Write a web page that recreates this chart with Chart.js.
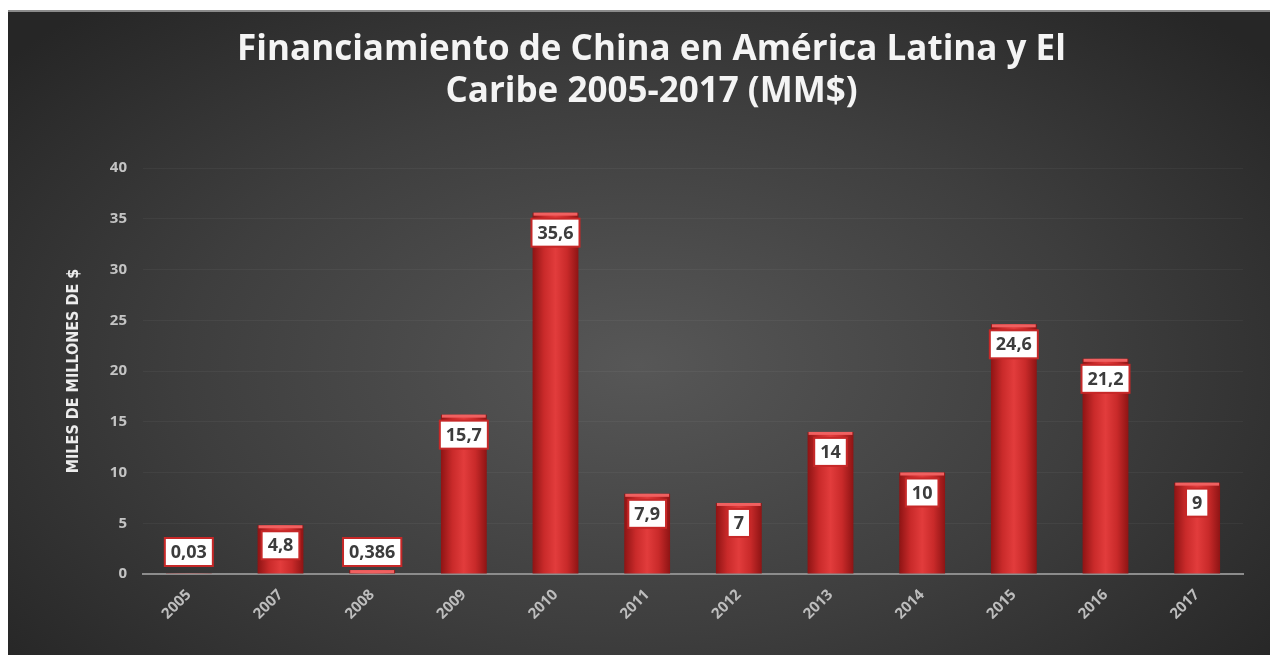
<!DOCTYPE html>
<html>
<head>
<meta charset="utf-8">
<script src="https://cdn.jsdelivr.net/npm/chart.js@4.4.1/dist/chart.umd.min.js"></script>
<style>
  html, body { margin: 0; padding: 0; background: #fff; }
  #panel {
    position: absolute; left: 8px; top: 10px; width: 1262px; height: 645px;
    background: radial-gradient(ellipse 65% 75% at 50% 55%, #575757 0%, #3e3e3e 55%, #262626 100%);
    border-top: 2px solid #8a8a8a; box-sizing: border-box;
  }
  canvas { display: block; }
</style>
</head>
<body>
<div id="panel"><canvas id="myChart" width="1262" height="643"></canvas></div>
<script>
var years = ['2005', '2007', '2008', '2009', '2010', '2011', '2012', '2013', '2014', '2015', '2016', '2017'];
var amounts = [0.03, 4.8, 0.386, 15.7, 35.6, 7.9, 7, 14, 10, 24.6, 21.2, 9];
var valueLabels = ['0,03', '4,8', '0,386', '15,7', '35,6', '7,9', '7', '14', '10', '24,6', '21,2', '9'];
var yTicks = [0, 5, 10, 15, 20, 25, 30, 35, 40];

// red cylinder look: dark edges, bright middle
function barGradient(context) {
  var chart = context.chart;
  if (!chart.chartArea || context.dataIndex === undefined) return '#c62828';
  var xs = chart.scales.x;
  var cx = xs.getPixelForValue(context.dataIndex);
  var half = (xs.width / years.length) * 0.5 / 2;
  var g = chart.ctx.createLinearGradient(cx - half, 0, cx + half, 0);
  g.addColorStop(0, '#8e1414');
  g.addColorStop(0.25, '#c92a2a');
  g.addColorStop(0.5, '#e23c3c');
  g.addColorStop(0.75, '#c92a2a');
  g.addColorStop(1, '#8e1414');
  return g;
}

var barExtras = {
  id: 'barExtras',
  afterDatasetsDraw: function (chart) {
    var ctx = chart.ctx;
    var meta = chart.getDatasetMeta(0);
    var base = chart.scales.y.getPixelForValue(0);
    ctx.save();
    meta.data.forEach(function (bar, i) {
      var left = bar.x - bar.width / 2;
      // top cap
      if (base - bar.y > 3) {
        ctx.fillStyle = '#f06060';
        ctx.fillRect(left + 1, bar.y, bar.width - 2, 3);
      }
      // value label box
      ctx.font = 'bold 18px "Open Sans", sans-serif';
      var txt = valueLabels[i];
      var w = ctx.measureText(txt).width + 12;
      var h = 28;
      var cy = Math.min(bar.y + 6 + h / 2, base - 8 - h / 2);
      ctx.fillStyle = '#ffffff';
      ctx.fillRect(bar.x - w / 2, cy - h / 2, w, h);
      ctx.strokeStyle = '#c62828';
      ctx.lineWidth = 2;
      ctx.strokeRect(bar.x - w / 2, cy - h / 2, w, h);
      ctx.fillStyle = '#3c3c3c';
      ctx.textAlign = 'center';
      ctx.textBaseline = 'middle';
      ctx.fillText(txt, bar.x, cy + 1);
    });
    ctx.restore();
  }
};

var myChart = new Chart(document.getElementById('myChart'), {
  type: 'bar',
  data: {
    labels: years,
    datasets: [{
      label: 'Financiamiento',
      data: amounts,
      backgroundColor: barGradient,
      borderWidth: 0,
      barPercentage: 0.5,
      categoryPercentage: 1.0
    }]
  },
  options: {
    responsive: false,
    animation: false,
    layout: { padding: { left: 52, right: 27, top: 0, bottom: 6 } },
    plugins: {
      legend: { display: false },
      tooltip: { enabled: false },
      title: {
        display: true,
        text: ['Financiamiento de China en América Latina y El', 'Caribe 2005-2017 (MM$)'],
        color: '#f4f4f4',
        font: { family: '"Open Sans", sans-serif', size: 35, weight: 'bold', lineHeight: 1.2 },
        padding: { top: 17, bottom: 55 }
      }
    },
    scales: {
      x: {
        grid: { display: false },
        border: { display: true, color: '#8c8c8c', width: 2 },
        ticks: {
          color: '#bdbdbd',
          font: { family: '"Open Sans", sans-serif', size: 15, weight: 'bold' },
          minRotation: 45, maxRotation: 45, padding: 4
        },
        afterFit: function (s) { s.height = 75; }
      },
      y: {
        min: 0, max: 40,
        afterBuildTicks: function (s) { s.ticks = yTicks.map(function (v) { return { value: v }; }); },
        grid: { color: 'rgba(255,255,255,0.045)', drawTicks: false },
        border: { display: false },
        ticks: {
          color: '#c4c4c4',
          font: { family: '"Open Sans", sans-serif', size: 15, weight: 'bold' },
          padding: 16
        },
        title: {
          display: true,
          text: 'MILES DE MILLONES DE $',
          color: '#ececec',
          font: { family: '"DejaVu Sans Condensed", "Liberation Sans Narrow", sans-serif', size: 16, weight: 'bold' },
          padding: { bottom: 0 }
        },
        afterFit: function (s) { s.width = 83; }
      }
    }
  },
  plugins: [barExtras]
});
</script>
</body>
</html>
